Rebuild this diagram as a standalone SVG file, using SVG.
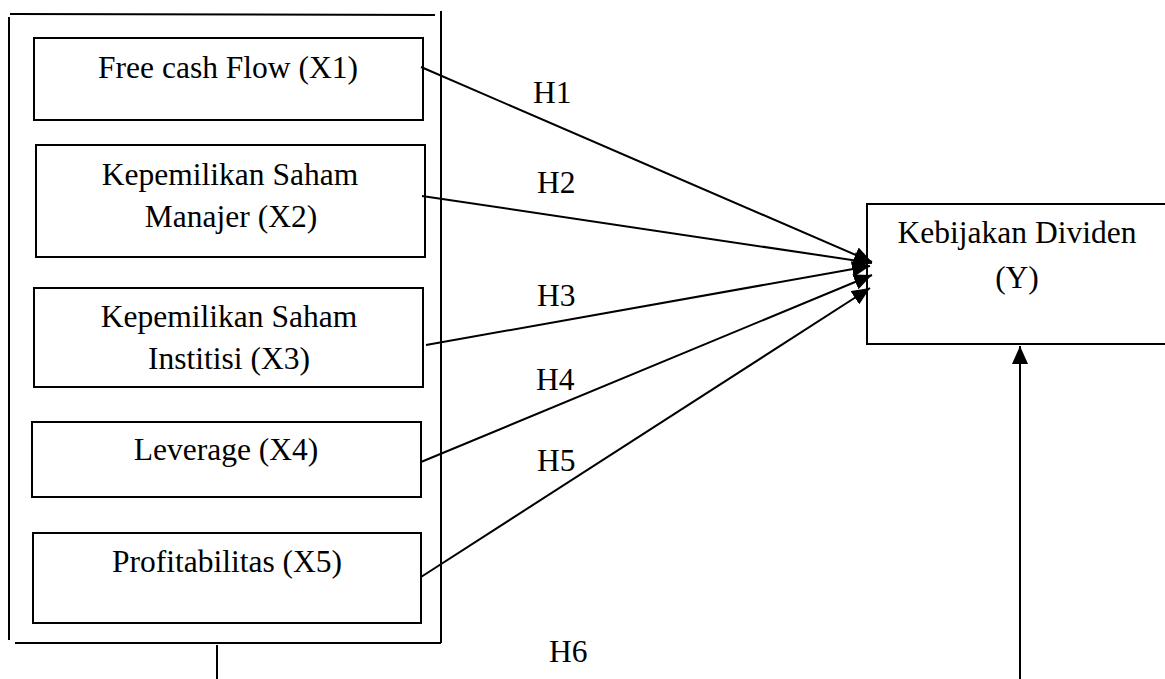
<svg xmlns="http://www.w3.org/2000/svg" width="1165" height="679" viewBox="0 0 1165 679">
<style>
.box{fill:#fff;stroke:#000;stroke-width:2}
.ln{fill:none;stroke:#000;stroke-width:2}
.t{font-family:"Liberation Serif","Times New Roman",serif;font-size:31.5px;fill:#000;text-anchor:middle}
.h{font-family:"Liberation Serif","Times New Roman",serif;font-size:31.5px;fill:#000}
</style>
<defs>
<marker id="ah" markerUnits="userSpaceOnUse" markerWidth="20" markerHeight="16" refX="18" refY="8" orient="auto">
<path d="M0,0 L18,8 L0,16 Z" fill="#000"/>
</marker>
</defs>
<rect width="1165" height="679" fill="#fff"/>
<g id="container">
<line class="ln" x1="10" y1="14" x2="435" y2="15"/>
<line class="ln" x1="9" y1="17" x2="9" y2="640"/>
<line class="ln" x1="441" y1="11" x2="441" y2="643"/>
<line class="ln" x1="15" y1="643" x2="441" y2="643"/>
<line class="ln" x1="217" y1="645" x2="217" y2="679"/>
</g>
<g id="x1">
<rect class="box" x="34" y="38" width="389" height="82"/>
<text class="t" x="228" y="78">Free cash Flow (X1)</text>
</g>
<g id="x2">
<rect class="box" x="36" y="145" width="389" height="112"/>
<text class="t" x="230" y="185">Kepemilikan Saham</text>
<text class="t" x="231" y="227">Manajer (X2)</text>
</g>
<g id="x3">
<rect class="box" x="34" y="288" width="389" height="99"/>
<text class="t" x="229" y="327">Kepemilikan Saham</text>
<text class="t" x="229" y="369">Institisi (X3)</text>
</g>
<g id="x4">
<rect class="box" x="32" y="422" width="389" height="75"/>
<text class="t" x="226" y="460">Leverage (X4)</text>
</g>
<g id="x5">
<rect class="box" x="33" y="533" width="388" height="90"/>
<text class="t" x="227" y="572">Profitabilitas (X5)</text>
</g>
<g id="y">
<rect class="box" x="867" y="204" width="310" height="140"/>
<text class="t" x="1017" y="243">Kebijakan Dividen</text>
<text class="t" x="1017" y="288">(Y)</text>
</g>
<g id="connectors">
<line class="ln" x1="421" y1="67" x2="872" y2="262" marker-end="url(#ah)"/>
<line class="ln" x1="422" y1="196" x2="872" y2="263" marker-end="url(#ah)"/>
<line class="ln" x1="426" y1="345" x2="870" y2="266" marker-end="url(#ah)"/>
<line class="ln" x1="421" y1="462" x2="872" y2="275" marker-end="url(#ah)"/>
<line class="ln" x1="421" y1="577" x2="870" y2="288" marker-end="url(#ah)"/>
<line class="ln" x1="1020" y1="679" x2="1020" y2="346" marker-end="url(#ah)"/>
</g>
<g id="labels">
<text class="h" x="533" y="103">H1</text>
<text class="h" x="537" y="193">H2</text>
<text class="h" x="537" y="306">H3</text>
<text class="h" x="536" y="390">H4</text>
<text class="h" x="537" y="471">H5</text>
<text class="h" x="549" y="662">H6</text>
</g>
</svg>
